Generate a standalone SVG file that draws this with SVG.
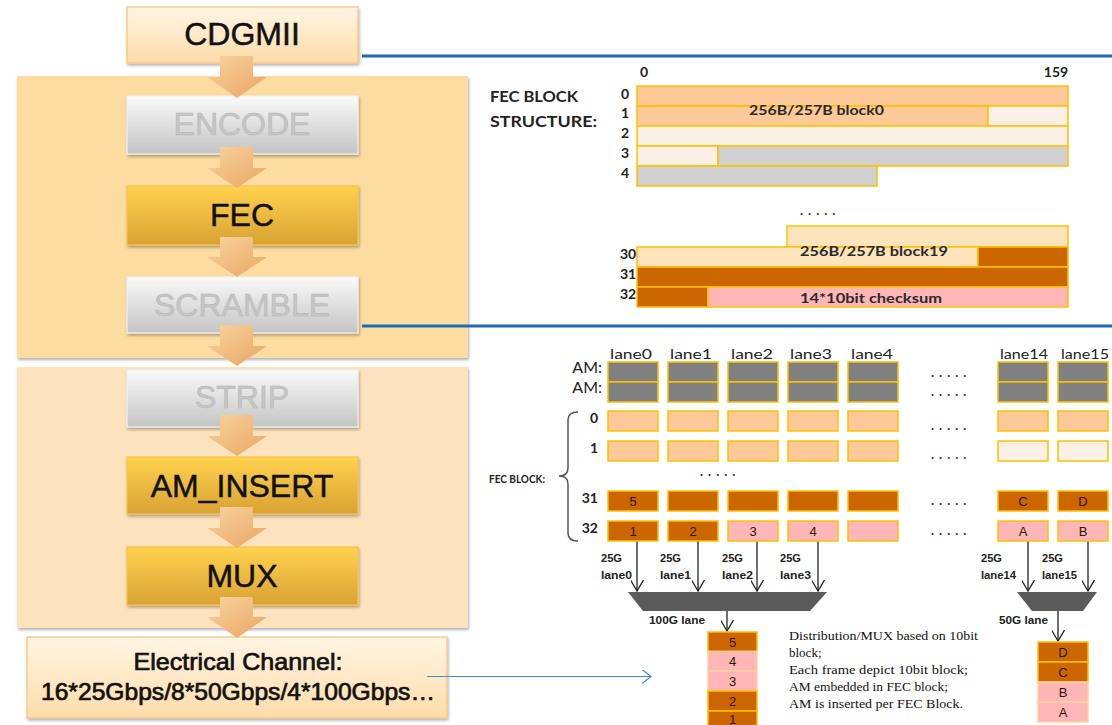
<svg xmlns="http://www.w3.org/2000/svg" width="1112" height="725" viewBox="0 0 1112 725">
<style>
.big{font-family:"Liberation Sans",Arial,sans-serif;font-size:32px;text-anchor:middle}
.blk{fill:#111;stroke:#111;stroke-width:0.5}
.gry{fill:#c6c6c6;stroke:#b4b4b4;stroke-width:0.5}
.cal{font-family:Lato,"Liberation Sans",sans-serif}
.b{font-weight:bold}
.num{font-family:Lato,"Liberation Sans",sans-serif;font-weight:bold;font-size:14px;fill:#222}
.cell{stroke:#ffc000;stroke-width:1.5}
.pe{fill:#fdc998}
.lt{fill:#fbf0e6}
.gy{fill:#d0d0d0}
.dk{fill:#cc6600}
.pk{fill:#ffb6b6}
.lp{fill:#fde4bd}
.am{fill:#808080}
.ct{font-family:"Liberation Sans",Arial,sans-serif;font-size:13px;fill:#2a1500;text-anchor:middle}
.dots{font-family:Lato,"Liberation Sans",sans-serif;font-weight:bold;font-size:13px;fill:#333;letter-spacing:5px}
.small{font-family:"Liberation Sans",Arial,sans-serif;font-weight:bold;font-size:10px;fill:#222}
.note{font-family:"Liberation Serif","Times New Roman",serif;font-size:13px;fill:#111}
.ln{stroke:#222;stroke-width:1.3;fill:none}
.blue{stroke:#1f6cb4;stroke-width:3;fill:none}
.barrow{fill:url(#gArrow)}
</style>
<defs>
<linearGradient id="gPeach" x1="0" y1="0" x2="0" y2="1"><stop offset="0" stop-color="#fff5e4"/><stop offset="1" stop-color="#fddcaa"/></linearGradient>
<linearGradient id="gGray" x1="0" y1="0" x2="0" y2="1"><stop offset="0" stop-color="#fafafa"/><stop offset="1" stop-color="#c4c4c4"/></linearGradient>
<linearGradient id="gGold" x1="0" y1="0" x2="0" y2="1"><stop offset="0" stop-color="#ffd24f"/><stop offset="1" stop-color="#d9a232"/></linearGradient>
<linearGradient id="gArrow" x1="0" y1="0" x2="1" y2="1"><stop offset="0" stop-color="#f9d3a0"/><stop offset="1" stop-color="#e9a662"/></linearGradient>
<filter id="sh" x="-10%" y="-10%" width="120%" height="130%"><feDropShadow dx="1" dy="2" stdDeviation="1.5" flood-color="#000" flood-opacity="0.3"/></filter>
<marker id="chev" viewBox="0 0 12 13" refX="11" refY="6.5" markerWidth="12" markerHeight="13" markerUnits="userSpaceOnUse" orient="auto"><path d="M0,0 L11,6.5 L0,13" fill="none" stroke="#222" stroke-width="1.3"/></marker>
<marker id="chevB" viewBox="0 0 10 14" refX="9" refY="7" markerWidth="10" markerHeight="14" markerUnits="userSpaceOnUse" orient="auto"><path d="M0,0 L9,7 L0,14" fill="none" stroke="#3d8fd6" stroke-width="1.3"/></marker>
</defs>

<rect width="1112" height="725" fill="#fff"/>

<!-- panels -->
<g id="panel-top"><rect x="17" y="76" width="451" height="282" fill="#fcdca0" filter="url(#sh)"/></g>
<g id="panel-bottom"><rect x="17" y="367" width="451" height="261" fill="#fde3bd" filter="url(#sh)"/></g>

<!-- left nodes -->
<g id="node-cdgmii"><rect x="127" y="7" width="231" height="56" fill="url(#gPeach)" stroke="#f7c27c" stroke-width="1.2" filter="url(#sh)"/><text class="big blk" x="242" y="45">CDGMII</text></g>
<g id="node-encode"><rect x="127" y="96" width="231" height="58" fill="url(#gGray)" stroke="#f0f0f0" stroke-width="1.2" filter="url(#sh)"/><text class="big gry" x="242" y="135">ENCODE</text></g>
<g id="node-fec"><rect x="127" y="186" width="231" height="59" fill="url(#gGold)" stroke="#f3c452" stroke-width="1.2" filter="url(#sh)"/><text class="big blk" x="242" y="226">FEC</text></g>
<g id="node-scramble"><rect x="127" y="277" width="231" height="56" fill="url(#gGray)" stroke="#f0f0f0" stroke-width="1.2" filter="url(#sh)"/><text class="big gry" x="242" y="316">SCRAMBLE</text></g>
<g id="node-strip"><rect x="127" y="370" width="231" height="57" fill="url(#gGray)" stroke="#f0f0f0" stroke-width="1.2" filter="url(#sh)"/><text class="big gry" x="242" y="408">STRIP</text></g>
<g id="node-aminsert"><rect x="127" y="457" width="231" height="57" fill="url(#gGold)" stroke="#f3c452" stroke-width="1.2" filter="url(#sh)"/><text class="big blk" x="242" y="497">AM_INSERT</text></g>
<g id="node-mux"><rect x="127" y="547" width="231" height="58" fill="url(#gGold)" stroke="#f3c452" stroke-width="1.2" filter="url(#sh)"/><text class="big blk" x="242" y="587">MUX</text></g>
<g id="node-electrical"><rect x="27" y="637" width="420" height="81" fill="url(#gPeach)" stroke="#f7c27c" stroke-width="1.2" filter="url(#sh)"/>
<text x="238" y="670" font-family="'Liberation Sans',Arial,sans-serif" font-size="24" fill="#111" text-anchor="middle" textLength="209" lengthAdjust="spacingAndGlyphs" stroke="#111" stroke-width="0.7">Electrical Channel:</text>
<text x="238" y="700" font-family="'Liberation Sans',Arial,sans-serif" font-size="24" fill="#111" text-anchor="middle" textLength="394" lengthAdjust="spacingAndGlyphs" stroke="#111" stroke-width="0.7">16*25Gbps/8*50Gbps/4*100Gbps…</text></g>

<!-- connectors -->
<g id="connectors">
<path class="barrow" d="M220,56 H253 V77 H267 L237,98 L207,77 H220 Z"/>
<path class="barrow" d="M220,147 H253 V168 H267 L237,188 L207,168 H220 Z"/>
<path class="barrow" d="M220,237 H253 V257 H267 L237,277 L207,257 H220 Z"/>
<path class="barrow" d="M220,325 H253 V346 H267 L237,366 L207,346 H220 Z"/>
<path class="barrow" d="M220,415 H253 V436 H267 L237,456 L207,436 H220 Z"/>
<path class="barrow" d="M220,507 H253 V528 H267 L237,548 L207,528 H220 Z"/>
<path class="barrow" d="M220,597 H253 V617 H267 L237,638 L207,617 H220 Z"/>
<line class="blue" x1="362" y1="56" x2="1112" y2="56"/>
<line class="blue" x1="362" y1="326" x2="1112" y2="326"/>
<line x1="427" y1="676.5" x2="651" y2="676.5" stroke="#3d8fd6" stroke-width="1.2" marker-end="url(#chevB)"/>
<line class="ln" x1="637" y1="541" x2="637" y2="591" marker-end="url(#chev)"/>
<line class="ln" x1="698" y1="541" x2="698" y2="591" marker-end="url(#chev)"/>
<line class="ln" x1="757" y1="541" x2="757" y2="591" marker-end="url(#chev)"/>
<line class="ln" x1="818" y1="541" x2="818" y2="591" marker-end="url(#chev)"/>
<line class="ln" x1="1028" y1="541" x2="1028" y2="591" marker-end="url(#chev)"/>
<line class="ln" x1="1088" y1="541" x2="1088" y2="591" marker-end="url(#chev)"/>
<line class="ln" x1="727" y1="611" x2="727" y2="631" marker-end="url(#chev)"/>
<line class="ln" x1="1058" y1="611" x2="1058" y2="641" marker-end="url(#chev)"/>
</g>

<!-- FEC block structure -->
<g id="fec-structure">
<text class="cal b" x="490" y="102" font-size="15" fill="#222" textLength="88" lengthAdjust="spacingAndGlyphs">FEC BLOCK</text>
<text class="cal b" x="490" y="127" font-size="15" fill="#222" textLength="107" lengthAdjust="spacingAndGlyphs">STRUCTURE:</text>
<text class="num" x="644" y="77" text-anchor="middle">0</text>
<text class="num" x="1056" y="77" text-anchor="middle">159</text>
<text class="num" x="625" y="99" text-anchor="middle">0</text>
<text class="num" x="625" y="118" text-anchor="middle">1</text>
<text class="num" x="625" y="138" text-anchor="middle">2</text>
<text class="num" x="625" y="158" text-anchor="middle">3</text>
<text class="num" x="625" y="178" text-anchor="middle">4</text>
<rect class="cell pe" x="637" y="86" width="431" height="20"/>
<rect class="cell pe" x="637" y="106" width="351" height="20"/>
<rect class="cell lt" x="988" y="106" width="80" height="20"/>
<rect class="cell lt" x="637" y="126" width="431" height="20"/>
<rect class="cell lt" x="637" y="146" width="81" height="20"/>
<rect class="cell gy" x="718" y="146" width="350" height="20"/>
<rect class="cell gy" x="637" y="166" width="240" height="20"/>
<text class="cal" x="749" y="115" font-size="14" font-weight="bold" fill="#2a2a2a" textLength="135" lengthAdjust="spacingAndGlyphs">256B/257B  block0</text>
<text class="dots" x="800" y="215">.....</text>
<rect class="cell lp" x="787" y="226" width="281" height="21"/>
<rect class="cell lp" x="637" y="247" width="341" height="20"/>
<rect class="cell dk" x="978" y="247" width="90" height="20"/>
<rect class="cell dk" x="637" y="267" width="431" height="20"/>
<rect class="cell dk" x="637" y="287" width="71" height="20"/>
<rect class="cell pk" x="708" y="287" width="360" height="20"/>
<text class="num" x="628" y="259" text-anchor="middle">30</text>
<text class="num" x="628" y="279" text-anchor="middle">31</text>
<text class="num" x="628" y="299" text-anchor="middle">32</text>
<text class="cal" x="800" y="256" font-size="14" font-weight="bold" fill="#2a2a2a" textLength="148" lengthAdjust="spacingAndGlyphs">256B/257B  block19</text>
<text class="cal" x="800" y="303" font-size="14" font-weight="bold" fill="#2a2a2a" textLength="142" lengthAdjust="spacingAndGlyphs">14*10bit checksum</text>
</g>

<!-- lane grid -->
<g id="lane-grid">
<g class="cal" font-size="14" fill="#222">
<text x="610" y="359" textLength="42" lengthAdjust="spacingAndGlyphs">lane0</text>
<text x="670" y="359" textLength="42" lengthAdjust="spacingAndGlyphs">lane1</text>
<text x="731" y="359" textLength="42" lengthAdjust="spacingAndGlyphs">lane2</text>
<text x="790" y="359" textLength="42" lengthAdjust="spacingAndGlyphs">lane3</text>
<text x="851" y="359" textLength="42" lengthAdjust="spacingAndGlyphs">lane4</text>
<text x="1000" y="359" textLength="48" lengthAdjust="spacingAndGlyphs">lane14</text>
<text x="1061" y="359" textLength="48" lengthAdjust="spacingAndGlyphs">lane15</text>
</g>
<g class="cal" font-size="16" fill="#222" text-anchor="end">
<text x="602" y="373">AM:</text>
<text x="602" y="393">AM:</text>
</g>
<text class="num" x="598" y="423" text-anchor="end">0</text>
<text class="num" x="598" y="453" text-anchor="end">1</text>
<text class="num" x="598" y="503" text-anchor="end">31</text>
<text class="num" x="598" y="533" text-anchor="end">32</text>
<path d="M578,412 Q568,412 568,420 V468 Q568,476 559,476 Q568,476 568,484 V533 Q568,541 578,541" fill="none" stroke="#555" stroke-width="1.5"/>
<text class="cal b" x="489" y="483" font-size="12" fill="#222" textLength="56" lengthAdjust="spacingAndGlyphs">FEC BLOCK:</text>
<g class="cell am">
<rect x="608" y="362" width="50" height="20"/><rect x="668" y="362" width="50" height="20"/><rect x="728" y="362" width="50" height="20"/><rect x="788" y="362" width="50" height="20"/><rect x="848" y="362" width="50" height="20"/><rect x="998" y="362" width="50" height="20"/><rect x="1058" y="362" width="50" height="20"/>
<rect x="608" y="382" width="50" height="20"/><rect x="668" y="382" width="50" height="20"/><rect x="728" y="382" width="50" height="20"/><rect x="788" y="382" width="50" height="20"/><rect x="848" y="382" width="50" height="20"/><rect x="998" y="382" width="50" height="20"/><rect x="1058" y="382" width="50" height="20"/>
</g>
<g class="cell pe">
<rect x="608" y="411" width="50" height="20"/><rect x="668" y="411" width="50" height="20"/><rect x="728" y="411" width="50" height="20"/><rect x="788" y="411" width="50" height="20"/><rect x="848" y="411" width="50" height="20"/><rect x="998" y="411" width="50" height="20"/><rect x="1058" y="411" width="50" height="20"/>
<rect x="608" y="441" width="50" height="20"/><rect x="668" y="441" width="50" height="20"/><rect x="728" y="441" width="50" height="20"/><rect x="788" y="441" width="50" height="20"/><rect x="848" y="441" width="50" height="20"/>
</g>
<g class="cell lt"><rect x="998" y="441" width="50" height="20"/><rect x="1058" y="441" width="50" height="20"/></g>
<g class="cell dk">
<rect x="608" y="491" width="50" height="20"/><rect x="668" y="491" width="50" height="20"/><rect x="728" y="491" width="50" height="20"/><rect x="788" y="491" width="50" height="20"/><rect x="848" y="491" width="50" height="20"/><rect x="998" y="491" width="50" height="20"/><rect x="1058" y="491" width="50" height="20"/>
<rect x="608" y="521" width="50" height="20"/><rect x="668" y="521" width="50" height="20"/>
</g>
<g class="cell pk">
<rect x="728" y="521" width="50" height="20"/><rect x="788" y="521" width="50" height="20"/><rect x="848" y="521" width="50" height="20"/><rect x="998" y="521" width="50" height="20"/><rect x="1058" y="521" width="50" height="20"/>
</g>
<text class="ct" x="633" y="506">5</text>
<text class="ct" x="1023" y="506">C</text>
<text class="ct" x="1083" y="506">D</text>
<text class="ct" x="633" y="536">1</text>
<text class="ct" x="693" y="536">2</text>
<text class="ct" x="753" y="536">3</text>
<text class="ct" x="813" y="536">4</text>
<text class="ct" x="1023" y="536">A</text>
<text class="ct" x="1083" y="536">B</text>
<g class="dots">
<text x="931" y="377">.....</text>
<text x="931" y="396">.....</text>
<text x="931" y="430">.....</text>
<text x="931" y="459">.....</text>
<text x="700" y="476">.....</text>
<text x="931" y="505">.....</text>
<text x="931" y="535">.....</text>
</g>
</g>

<g id="lane-out-labels" class="small">
<text x="601" y="562" textLength="21" lengthAdjust="spacingAndGlyphs">25G</text><text x="601" y="579" textLength="31" lengthAdjust="spacingAndGlyphs">lane0</text>
<text x="660" y="562" textLength="21" lengthAdjust="spacingAndGlyphs">25G</text><text x="660" y="579" textLength="31" lengthAdjust="spacingAndGlyphs">lane1</text>
<text x="722" y="562" textLength="21" lengthAdjust="spacingAndGlyphs">25G</text><text x="722" y="579" textLength="31" lengthAdjust="spacingAndGlyphs">lane2</text>
<text x="780" y="562" textLength="21" lengthAdjust="spacingAndGlyphs">25G</text><text x="780" y="579" textLength="31" lengthAdjust="spacingAndGlyphs">lane3</text>
<text x="981" y="562" textLength="21" lengthAdjust="spacingAndGlyphs">25G</text><text x="981" y="579" textLength="35" lengthAdjust="spacingAndGlyphs">lane14</text>
<text x="1042" y="562" textLength="21" lengthAdjust="spacingAndGlyphs">25G</text><text x="1042" y="579" textLength="35" lengthAdjust="spacingAndGlyphs">lane15</text>
<text x="649" y="624" textLength="56" lengthAdjust="spacingAndGlyphs">100G lane</text>
<text x="999" y="624" textLength="49" lengthAdjust="spacingAndGlyphs">50G lane</text>
</g>

<g id="mux-100g"><polygon points="628,592 827,592 810,611 643,611" fill="#5a5a5a"/></g>
<g id="mux-50g"><polygon points="1017,592 1097,592 1083,611 1032,611" fill="#5a5a5a"/></g>

<g id="stack-100g">
<rect class="cell dk" x="708" y="632" width="49" height="19.5"/>
<rect class="pk" x="708" y="651.5" width="49" height="19.5" stroke="#fdd3a0" stroke-width="1.5"/>
<rect class="pk" x="708" y="671" width="49" height="20" stroke="#fdd3a0" stroke-width="1.5"/>
<rect class="cell dk" x="708" y="691" width="49" height="20"/>
<rect class="cell dk" x="708" y="711" width="49" height="20"/>
<text class="ct" x="732.5" y="647">5</text>
<text class="ct" x="732.5" y="666">4</text>
<text class="ct" x="732.5" y="686">3</text>
<text class="ct" x="732.5" y="706">2</text>
<text class="ct" x="732.5" y="723.5" font-size="12">1</text>
</g>
<g id="stack-50g">
<rect class="cell dk" x="1038" y="642" width="50" height="20"/>
<rect class="cell dk" x="1038" y="662" width="50" height="20"/>
<rect class="pk" x="1038" y="682" width="50" height="20" stroke="#fdd3a0" stroke-width="1.5"/>
<rect class="pk" x="1038" y="702" width="50" height="20" stroke="#fdd3a0" stroke-width="1.5"/>
<text class="ct" x="1063" y="657">D</text>
<text class="ct" x="1063" y="677">C</text>
<text class="ct" x="1063" y="697">B</text>
<text class="ct" x="1063" y="717">A</text>
</g>

<g id="note" class="note">
<text x="789" y="640" textLength="189" lengthAdjust="spacingAndGlyphs">Distribution/MUX based on 10bit</text>
<text x="789" y="657">block;</text>
<text x="789" y="674" textLength="179" lengthAdjust="spacingAndGlyphs">Each frame depict 10bit block;</text>
<text x="789" y="691" textLength="159" lengthAdjust="spacingAndGlyphs">AM embedded in FEC block;</text>
<text x="789" y="708" textLength="174" lengthAdjust="spacingAndGlyphs">AM is inserted per FEC Block.</text>
</g>
</svg>
